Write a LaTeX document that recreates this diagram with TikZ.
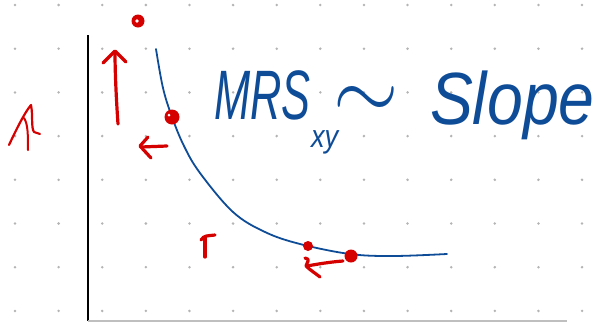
\documentclass[tikz,border=0pt]{standalone}
\usepackage{fontspec}
\setmainfont{Liberation Sans}
\usepackage{graphicx}
\definecolor{inkred}{HTML}{D50000}
\definecolor{inkblue}{HTML}{0F4C97}
\definecolor{griddot}{HTML}{B4B4B4}
\tikzset{
  redink/.style={draw=inkred, line width=3.2pt, line cap=round, line join=round},
  blueink/.style={draw=inkblue, line width=1.8pt, line cap=round, line join=round},
  hand/.style={text=inkblue, inner sep=0pt, outer sep=0pt}
}
\begin{document}
\begin{tikzpicture}[x=1pt,y=-1pt]
\useasboundingbox (0,0) rectangle (608,322);
% dot grid
\foreach \i in {0,...,13}{
  \foreach \j in {0,...,7}{
    \fill[griddot] ({15+43.62*\i},{5+43.7*\j}) circle (1.4);
  }
}
% axes
\coordinate (ytop) at (88,35);
\coordinate (origin) at (88,321);
\coordinate (xend) at (567,321);
\draw[black, line width=2pt] (ytop) -- (origin);
\draw[black!25, line width=1.6pt] (origin) -- (xend);
% indifference curve
\draw[blueink] plot[smooth, tension=0.6] coordinates {(156,49) (163,88) (172,117) (184,146) (200,173) (233,212) (265,232) (300,244) (350,254) (393,256) (447,254)};
% red points
\fill[inkred] (138,21) circle (6.5);
\fill[white] (137,21) circle (1.8);
\fill[inkred] (172,117) circle (7.5);
\fill[white] (169,115) circle (1.5);
\fill[inkred] (308,246) circle (5);
\fill[inkred] (351,256) circle (6.5);
% big up arrow
\draw[redink] (118,124) .. controls (116,95) and (115,70) .. (115,52);
\draw[redink] (103,63) -- (115,51) -- (126,62);
% left arrow near upper point
\draw[redink] (167,146) -- (141,147);
\draw[redink] (148,137) -- (140,146) -- (151,158);
% small up arrow
\draw[redink] (205,257) -- (205,237);
\draw[redink] (201,240) .. controls (204,235) and (208,236) .. (215,235);
% bottom left arrow
\draw[redink] (343,261) .. controls (330,262) and (318,264) .. (307,266);
\draw[redink] (305,258) .. controls (311,259) and (307,262) .. (306,266) .. controls (310,270) and (315,273) .. (320,277);
% left scribble
\draw[draw=inkred, line width=2.2pt, line cap=round, line join=round] (9,145) .. controls (17,128) and (25,112) .. (31,105) .. controls (33,115) and (31,128) .. (34,132) -- (40,134);
\draw[draw=inkred, line width=2pt, line cap=round] (28,150) .. controls (28,135) and (28,124) .. (24,118);
% handwritten text
\node[hand, anchor=base west, font=\itshape\fontsize{70}{70}\selectfont] (mrs) at (214,119) {\scalebox{0.62}[1]{MRS}};
\node[hand, anchor=base west, font=\itshape\fontsize{32}{32}\selectfont] (sub) at (311,147) {\scalebox{0.85}[1]{xy}};
\node[hand, anchor=center] (tilde) at (366,103) {\scalebox{8.4}[9]{$\sim$}};
\node[hand, anchor=base west, font=\itshape\fontsize{74}{74}\selectfont] (slope) at (430,124) {\scalebox{0.87}[1]{Slope}};
\end{tikzpicture}
\end{document}
